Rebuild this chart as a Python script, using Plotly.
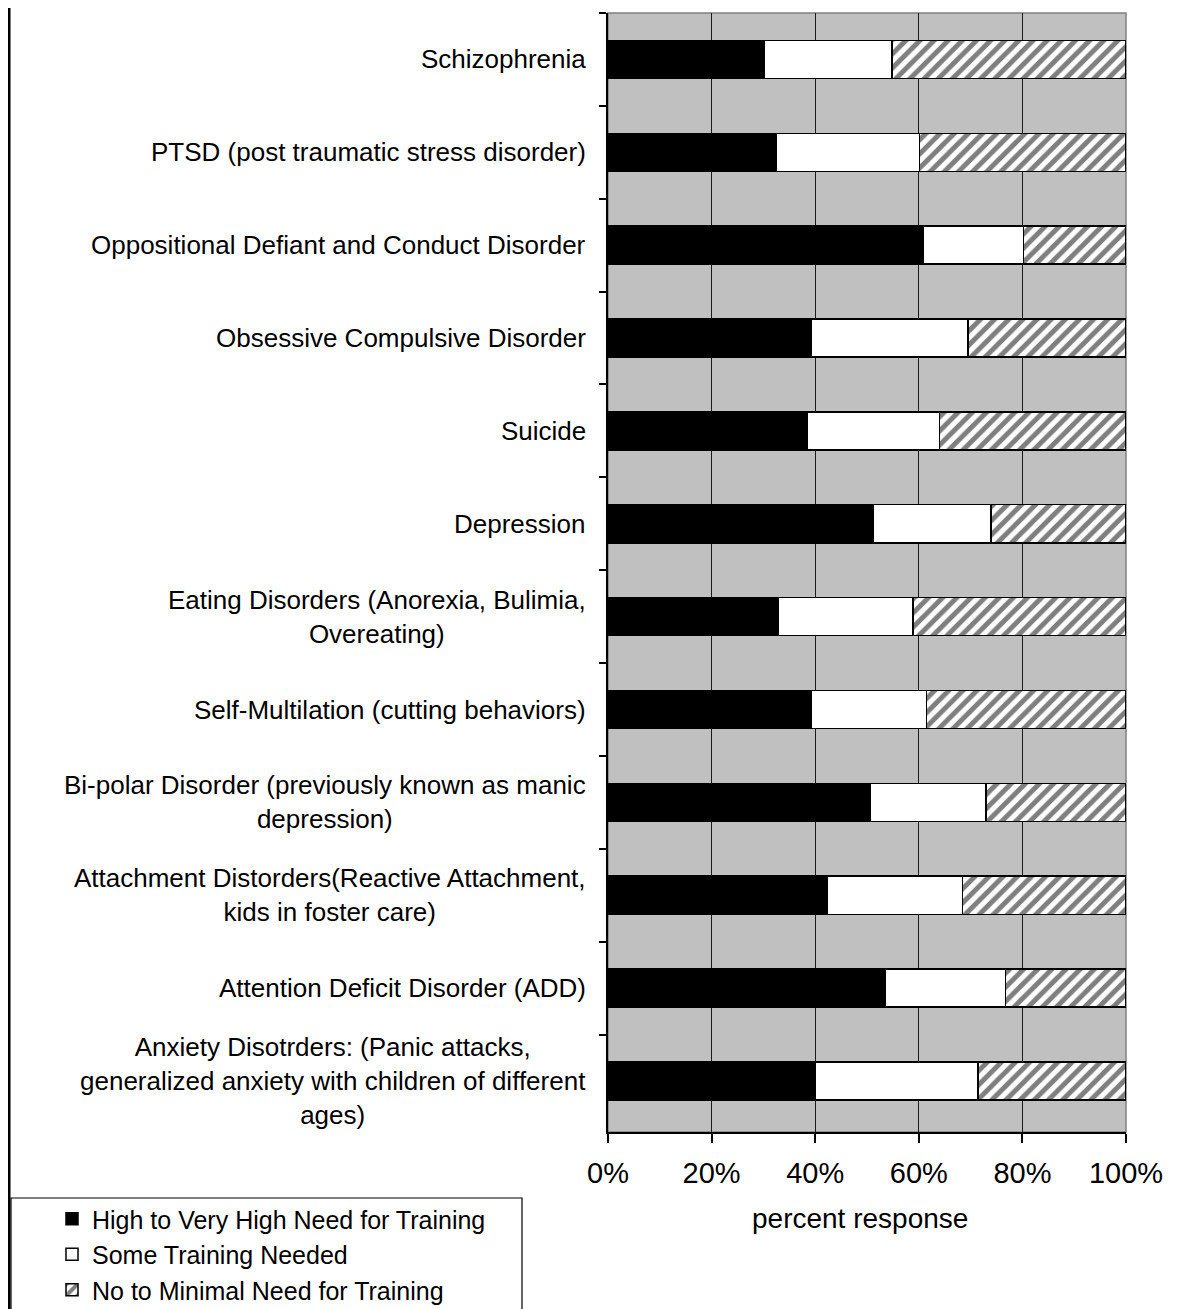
import plotly.graph_objects as go

categories = [
    "Schizophrenia",
    "PTSD (post traumatic stress disorder)",
    "Oppositional Defiant and Conduct Disorder",
    "Obsessive Compulsive Disorder",
    "Suicide",
    "Depression",
    "Eating Disorders (Anorexia, Bulimia,<br>Overeating)",
    "Self-Multilation (cutting behaviors)",
    "Bi-polar Disorder (previously known as manic<br>depression)",
    "Attachment Distorders(Reactive Attachment,<br>kids in foster care)",
    "Attention Deficit Disorder (ADD)",
    "Anxiety Disotrders: (Panic attacks,<br>generalized anxiety with children of different<br>ages)",
]
high_need = [30.2, 32.5, 60.9, 39.2, 38.5, 51.2, 32.9, 39.2, 50.7, 42.4, 53.5, 40.1]
some_need = [24.6, 27.6, 19.3, 30.3, 25.5, 22.7, 26.0, 22.3, 22.3, 26.0, 23.2, 31.3]
no_need = [45.2, 39.9, 19.8, 30.5, 36.0, 26.1, 41.1, 38.5, 27.0, 31.6, 23.3, 28.6]
series_names = ["High to Very High Need for Training", "Some Training Needed",
                "No to Minimal Need for Training"]
x_ticks = [0, 20, 40, 60, 80, 100]
x_ticktext = ["0%", "20%", "40%", "60%", "80%", "100%"]

FONT = "Liberation Sans, Arial, sans-serif"

fig = go.Figure()
fig.add_trace(go.Bar(
    y=categories, x=high_need, orientation="h", name=series_names[0],
    legendgroup="g1",
    marker=dict(color="black", line=dict(color="black", width=1.5)),
))
fig.add_trace(go.Bar(
    y=categories, x=some_need, orientation="h", name=series_names[1],
    legendgroup="g2",
    marker=dict(color="white", line=dict(color="black", width=1.5)),
))
fig.add_trace(go.Bar(
    y=categories, x=no_need, orientation="h", name=series_names[2],
    legendgroup="g3",
    marker=dict(color="white", line=dict(color="black", width=1.5),
                pattern=dict(shape="/", fgcolor="black", bgcolor="white",
                             size=10, solidity=0.5)),
))

# page offset (browser body margin) compensation
OFF = 8
W, H = 1182 - OFF, 1309 - OFF
L, T = 608 - OFF, 13 - OFF
PR, PB = 1126 - OFF, 1132 - OFF
R, B = W - PR, H - PB
pw, ph = PR - L, PB - T

def px_x(p):
    return (p - OFF - L) / pw

def px_y(p):
    return (PB - (p - OFF)) / ph

annotations = []
for c in categories:
    annotations.append(dict(
        x=px_x(588), xref="paper", y=c, yref="y", text=c,
        xanchor="right", yanchor="middle", align="center", showarrow=False,
        font=dict(family=FONT, size=26, color="black"),
    ))
annotations.append(dict(
    x=px_x(860), xref="paper", y=px_y(1218), yref="paper", text="percent response",
    xanchor="center", yanchor="middle", showarrow=False,
    font=dict(family=FONT, size=28, color="black"),
))

shapes = [
    dict(type="rect", xref="paper", yref="paper", x0=0, x1=1, y0=0, y1=1,
         line=dict(color="#808080", width=1.5), layer="below"),
    dict(type="line", xref="paper", yref="paper", x0=px_x(OFF + 1), x1=px_x(OFF + 1),
         y0=px_y(0), y1=px_y(1320), line=dict(color="black", width=3)),
    dict(type="rect", xref="paper", yref="paper", x0=px_x(11), x1=px_x(522),
         y0=px_y(1198), y1=px_y(1330), line=dict(color="black", width=1.2)),
]

fig.update_layout(
    width=W, height=H,
    margin=dict(l=L, r=R, t=T, b=B, pad=0),
    barmode="stack", bargap=0.59,
    plot_bgcolor="#C0C0C0", paper_bgcolor="white",
    font=dict(family=FONT, size=26, color="black"),
    showlegend=True,
    legend=dict(xref="container", yref="container",
                x=(52 - OFF) / W, y=1 - (1196 - OFF) / H,
                xanchor="left", yanchor="top",
                traceorder="normal", tracegroupgap=0,
                font=dict(family=FONT, size=25, color="black"),
                bgcolor="rgba(0,0,0,0)", borderwidth=0),
    annotations=annotations,
    shapes=shapes,
    xaxis=dict(range=[0, 100], tickvals=x_ticks, ticktext=x_ticktext,
               showgrid=True, gridcolor="#1a1a1a", gridwidth=1,
               zeroline=False, showline=True, linecolor="black", linewidth=1.5,
               ticks="outside", ticklen=9, tickcolor="black", tickwidth=1.5,
               ticklabelstandoff=5,
               tickfont=dict(family=FONT, size=29, color="black")),
    yaxis=dict(type="category", autorange="reversed", showticklabels=False,
               ticks="outside", tickson="boundaries", ticklen=7,
               tickcolor="black", tickwidth=1.5,
               showgrid=False, zeroline=False, showline=True,
               linecolor="black", linewidth=1.5),
)

fig.write_html("out.html")
